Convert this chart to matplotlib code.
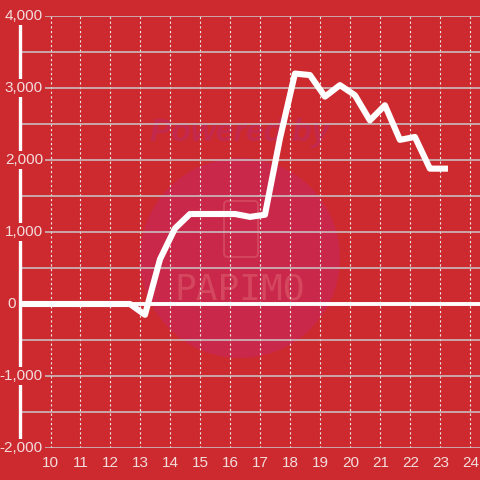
import matplotlib
matplotlib.use("Agg")
import matplotlib.pyplot as plt
from matplotlib.patches import Circle, FancyBboxPatch
from matplotlib.transforms import blended_transform_factory

plt.rcParams["font.family"] = ["Liberation Sans", "DejaVu Sans"]

# data (hours of day vs. value)
times = [8.65, 9.15, 9.65, 10.15, 10.65, 11.15, 11.65, 12.15, 12.65,
         13.15, 13.65, 14.15, 14.65, 15.15, 15.65, 16.15, 16.65, 17.15,
         17.65, 18.15, 18.65, 19.15, 19.65, 20.15, 20.65, 21.15, 21.65,
         22.15, 22.65, 23.15]
values = [0, 0, 0, 0, 0, 0, 0, 0, 0,
          -150, 620, 1050, 1250, 1250, 1250, 1250, 1210, 1240,
          2300, 3200, 3180, 2880, 3040, 2900, 2550, 2760, 2280,
          2320, 1880, 1880]
x_ticks = list(range(10, 25))
y_grid = list(range(-2000, 4001, 500))
y_labels = [-2000, -1000, 0, 1000, 2000, 3000, 4000]

bg = "#cd2a2f"
txt = "#f3dcdc"

fig = plt.figure(figsize=(4.8, 4.8), dpi=100, facecolor=bg)
ax = fig.add_axes([20 / 480, 32 / 480, 460 / 480, 432 / 480])
ax.set_facecolor(bg)
ax.set_xlim(8.983, 24.32)
ax.set_ylim(-2000, 4000)

# grid
ax.set_axisbelow(True)
ax.set_yticks(y_grid)
ax.set_xticks(x_ticks)
ax.grid(axis="y", color="#c9c9c9", linewidth=1.1, linestyle="-")
ax.grid(axis="x", color="#e8e8e8", linewidth=0.8, linestyle=(0, (2, 2.2)))
ax.tick_params(length=0, labelleft=False, labelsize=11, labelcolor=txt, pad=6)
ax.set_xticklabels([str(t) for t in x_ticks])
for s in ["top", "right", "bottom"]:
    ax.spines[s].set_visible(False)
ax.spines["left"].set_color("white")
ax.spines["left"].set_linewidth(2.4)
ax.spines["left"].set_bounds(-2000, 3900)

# watermark
fig_t = fig.transFigure
ax.add_patch(Circle((0.5, 1 - 258 / 480), 100 / 480, transform=fig_t,
                    facecolor="#c9284a", edgecolor="none", zorder=0.2))
ax.text(0.5, 1 - 133 / 480, "Powered by", transform=fig_t, ha="center", va="center",
        fontsize=23, fontstyle="italic", fontweight="bold", color="#c3294c", zorder=0.3)
ax.add_patch(FancyBboxPatch((224 / 480, 1 - 257 / 480), 34 / 480, 56 / 480,
                            boxstyle="round,pad=0,rounding_size=0.008", transform=fig_t,
                            facecolor="none", edgecolor="#d4475e", linewidth=1.3, zorder=0.3))
ax.text(0.5, 1 - 290 / 480, "PAPIMO", transform=fig_t, ha="center", va="center",
        fontsize=26, color="#d4475e", zorder=0.3,
        fontfamily="DejaVu Sans Mono")

# zero line and data line
ax.axhline(0, color="white", linewidth=2.8, zorder=2)
ax.plot(times, values, color="white", linewidth=4.4, zorder=3)

# y labels over the spine
ytr = blended_transform_factory(ax.transAxes, ax.transData)
for v in y_labels:
    xpos = (43 - 20) / 460 if v != 0 else (16 - 20) / 460
    ax.text(xpos, v, f"{v:,}", transform=ytr, ha="right", va="center",
            fontsize=11, color=txt, zorder=4, clip_on=False,
            bbox=dict(facecolor=bg, edgecolor="none", pad=1.5))

fig.savefig("out.png", dpi=100, facecolor=bg)
